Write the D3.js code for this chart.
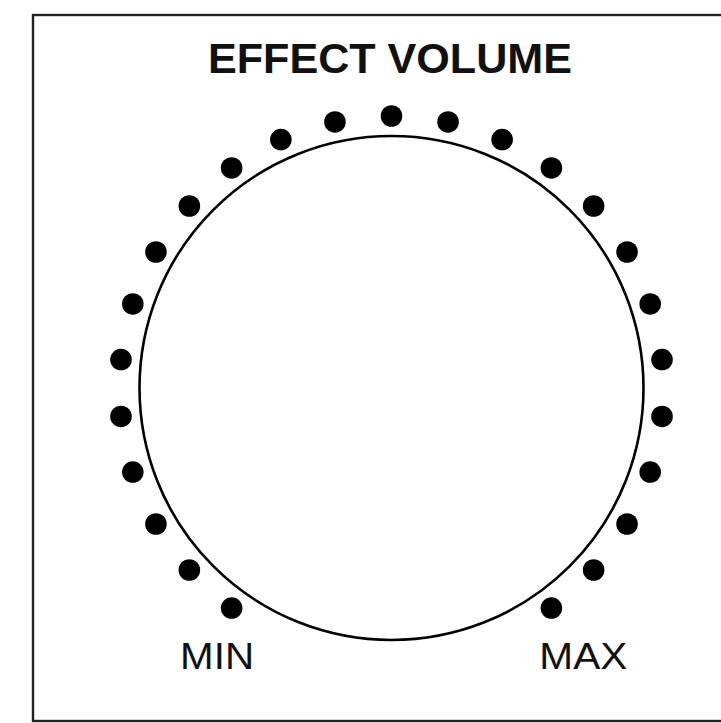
<!DOCTYPE html>
<html>
<head>
<meta charset="utf-8">
<script src="https://cdn.jsdelivr.net/npm/d3@7"></script>
<style>
  html, body { margin: 0; padding: 0; background: #fff; }
  svg { display: block; }
</style>
</head>
<body>
<svg id="chart" width="721" height="723"></svg>
<script>
// ---- data ----
const title = "EFFECT VOLUME";
const levels = [0, 1, 2, 3, 4, 5, 6, 7, 8, 9, 10, 11, 12, 13, 14, 15, 16, 17, 18, 19, 20, 21, 22, 23, 24];
const endLabels = ["MIN", "MAX"];
const endLevels = [0, 24];

// ---- layout ----
const cx = 391.5, cy = 388;
const knobR = 252;
const dotRingR = 272;
const dotR = 10.8;

const svg = d3.select("#chart");

// frame
svg.append("rect")
  .attr("x", 33).attr("y", 15)
  .attr("width", 720).attr("height", 706)
  .attr("fill", "none")
  .attr("stroke", "#222")
  .attr("stroke-width", 2.4);

// angle scale: level -> degrees clockwise from top
const angle = d3.scaleLinear().domain([0, 24]).range([-144, 144]);
const px = l => cx + dotRingR * Math.sin(angle(l) * Math.PI / 180);
const py = l => cy - dotRingR * Math.cos(angle(l) * Math.PI / 180);

// title
svg.append("text")
  .attr("x", 390).attr("y", 73)
  .attr("text-anchor", "middle")
  .attr("font-family", "Liberation Sans, Arial, sans-serif")
  .attr("font-weight", "bold")
  .attr("font-size", 42)
  .attr("textLength", 364)
  .attr("lengthAdjust", "spacingAndGlyphs")
  .attr("fill", "#111")
  .text(title);

// knob
svg.append("circle")
  .attr("cx", cx).attr("cy", cy).attr("r", knobR)
  .attr("fill", "none")
  .attr("stroke", "#000")
  .attr("stroke-width", 2.6);

// dots
svg.selectAll("circle.dot")
  .data(levels)
  .join("circle")
  .attr("class", "dot")
  .attr("cx", d => px(d))
  .attr("cy", d => py(d))
  .attr("r", dotR)
  .attr("fill", "#000");

// MIN / MAX labels
const labelLen = [74, 88];
svg.selectAll("text.end")
  .data(endLabels)
  .join("text")
  .attr("class", "end")
  .attr("x", (d, i) => px(endLevels[i]) + (i === 0 ? -14.5 : 32))
  .attr("y", 669)
  .attr("text-anchor", "middle")
  .attr("font-family", "Liberation Sans, Arial, sans-serif")
  .attr("font-size", 37)
  .attr("textLength", (d, i) => labelLen[i])
  .attr("lengthAdjust", "spacingAndGlyphs")
  .attr("fill", "#111")
  .text(d => d);
</script>
</body>
</html>
